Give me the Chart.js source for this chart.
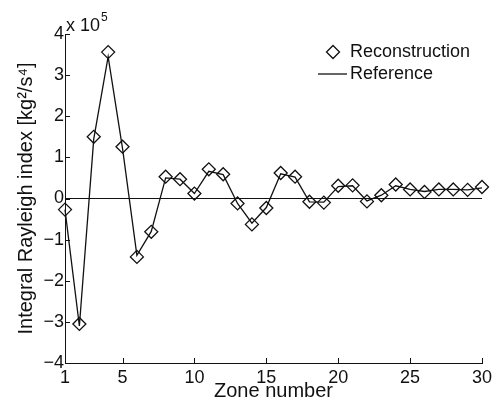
<html>
  <head>
    <script src="https://cdn.jsdelivr.net/npm/chart.js"></script>
    <style>
      body { margin: 0; background: #fff; }
      #wrap { width: 493px; height: 403px; }
    </style>
  </head>
  <body>
    <div id="wrap"><canvas id="graph-rayleigh" width="493" height="403"></canvas></div>
    <script>
      // zone numbers (x axis)
      var zones = [1, 2, 3, 4, 5, 6, 7, 8, 9, 10, 11, 12, 13, 14, 15,
                   16, 17, 18, 19, 20, 21, 22, 23, 24, 25, 26, 27, 28, 29, 30];
      // values in units of 1e5 kg^2/s^4
      var reconstruction = [-0.27, -3.05, 1.50, 3.56, 1.26, -1.42, -0.81, 0.53, 0.47, 0.12,
                            0.71, 0.59, -0.12, -0.63, -0.23, 0.62, 0.53, -0.08, -0.10, 0.31,
                            0.32, -0.07, 0.08, 0.34, 0.22, 0.16, 0.22, 0.22, 0.21, 0.28];
      var reference = [-0.27, -3.10, 1.45, 3.45, 1.22, -1.38, -0.80, 0.50, 0.47, 0.12,
                       0.66, 0.58, -0.12, -0.60, -0.22, 0.60, 0.52, -0.08, -0.09, 0.29,
                       0.31, -0.06, 0.08, 0.31, 0.22, 0.17, 0.22, 0.22, 0.21, 0.26];
      var xTicks = [1, 5, 10, 15, 20, 25, 30];
      var yTicks = [-4, -3, -2, -1, 0, 1, 2, 3, 4];

      var FONT = "'Liberation Sans', Arial, Helvetica, sans-serif";
      var INK = '#111';

      function toPoints(vals) {
        return zones.map(function (z, i) { return { x: z, y: vals[i] }; });
      }

      // inward tick marks, exponent label and legend
      var extras = {
        id: 'extras',
        afterDraw: function (chart) {
          var ctx = chart.ctx;
          var area = chart.chartArea;
          var xs = chart.scales.x, ys = chart.scales.y;
          ctx.save();
          ctx.strokeStyle = INK;
          ctx.lineWidth = 1;
          xTicks.forEach(function (v) {
            var px = Math.round(xs.getPixelForValue(v)) + 0.5;
            ctx.beginPath();
            ctx.moveTo(px, area.bottom);
            ctx.lineTo(px, area.bottom - 5);
            ctx.stroke();
          });
          yTicks.forEach(function (v) {
            var py = Math.round(ys.getPixelForValue(v)) + 0.5;
            ctx.beginPath();
            ctx.moveTo(area.left, py);
            ctx.lineTo(area.left + 5, py);
            ctx.stroke();
          });

          // x 10^5
          ctx.fillStyle = INK;
          ctx.textBaseline = 'alphabetic';
          ctx.textAlign = 'left';
          ctx.font = '18px ' + FONT;
          ctx.fillText('x 10', area.left + 1, 31);
          var w = ctx.measureText('x 10').width;
          ctx.font = '12px ' + FONT;
          ctx.fillText('5', area.left + 2 + w, 21);

          // legend
          ctx.font = '18px ' + FONT;
          ctx.textBaseline = 'middle';
          ctx.lineWidth = 1.3;
          var cx = 333, cy = 52, r = 6.5;
          ctx.beginPath();
          ctx.moveTo(cx, cy - r);
          ctx.lineTo(cx + r, cy);
          ctx.lineTo(cx, cy + r);
          ctx.lineTo(cx - r, cy);
          ctx.closePath();
          ctx.stroke();
          ctx.fillText('Reconstruction', 350, cy);
          ctx.beginPath();
          ctx.moveTo(318, 74);
          ctx.lineTo(347, 74);
          ctx.stroke();
          ctx.fillText('Reference', 350, 74);
          ctx.restore();
        }
      };

      var ctx = document.getElementById('graph-rayleigh').getContext('2d');
      var graph = new Chart(ctx, {
        type: 'line',
        data: {
          datasets: [{
            label: 'Reconstruction',
            data: toPoints(reconstruction),
            showLine: false,
            clip: false,
            pointStyle: 'rectRot',
            pointRadius: 6.5,
            pointBorderWidth: 1.3,
            pointBorderColor: INK,
            pointBackgroundColor: 'rgba(0,0,0,0)'
          }, {
            label: 'Reference',
            data: toPoints(reference),
            clip: false,
            borderColor: INK,
            borderWidth: 1.3,
            pointRadius: 0,
            tension: 0,
            fill: false
          }]
        },
        options: {
          responsive: false,
          animation: false,
          layout: { padding: { top: 34, right: 11, left: 0, bottom: 0 } },
          plugins: { legend: { display: false }, tooltip: { enabled: false } },
          scales: {
            x: {
              type: 'linear',
              min: 1, max: 30,
              afterBuildTicks: function (scale) {
                scale.ticks = xTicks.map(function (v) { return { value: v }; });
              },
              afterFit: function (scale) {
                scale.height = 40;
                scale.paddingLeft = 0;
                scale.paddingRight = 0;
              },
              grid: { display: false, drawTicks: false },
              border: { display: true, color: INK, width: 1 },
              ticks: {
                color: INK, padding: 4, maxRotation: 0, autoSkip: false,
                font: { family: FONT, size: 18 }
              },
              title: {
                display: true, text: 'Zone number', color: INK,
                padding: { top: 0, bottom: 0 },
                font: { family: FONT, size: 20 }
              }
            },
            y: {
              type: 'linear',
              min: -4, max: 4,
              afterBuildTicks: function (scale) {
                scale.ticks = yTicks.map(function (v) { return { value: v }; });
              },
              afterFit: function (scale) { scale.width = 65; },
              grid: {
                drawTicks: false,
                color: function (c) { return c.tick && c.tick.value === 0 ? INK : 'rgba(0,0,0,0)'; },
                lineWidth: 1
              },
              border: { display: true, color: INK, width: 1 },
              ticks: {
                color: INK, padding: 1,
                font: { family: FONT, size: 18 },
                callback: function (v) { return v < 0 ? '\u2212' + Math.abs(v) : '' + v; }
              },
              title: {
                display: true, text: 'Integral Rayleigh index [kg\u00b2/s\u2074]', color: INK,
                padding: { top: 14, bottom: 0 },
                font: { family: FONT, size: 20 }
              }
            }
          }
        },
        plugins: [extras]
      });
    </script>
  </body>
</html>
